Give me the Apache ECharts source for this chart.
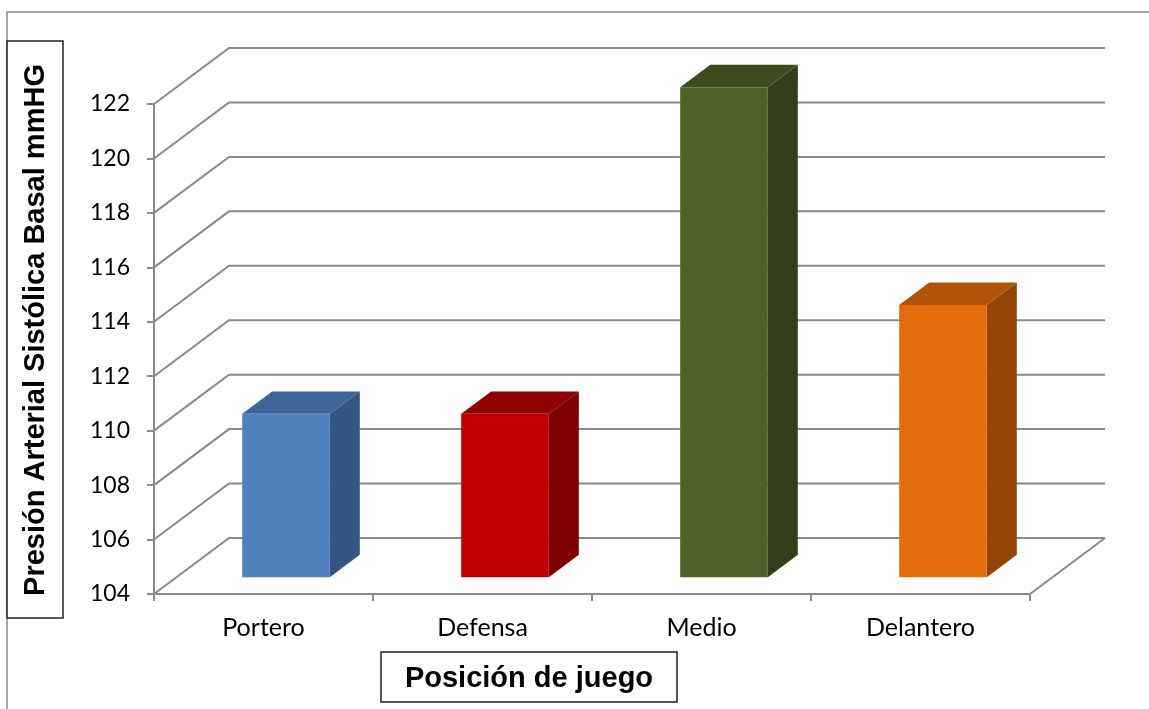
<!DOCTYPE html>
<html><head><meta charset="utf-8">
<script src="https://cdn.jsdelivr.net/npm/echarts@6/dist/echarts.min.js"></script>
<style>html,body{margin:0;padding:0;background:#fff}#c{width:1149px;height:709px}</style>
</head><body><div id="c"></div>
<script>
const categories = ['Portero', 'Defensa', 'Medio', 'Delantero'];
const values = [110, 110, 122, 114];
const frontColors = ['#4F81BD', '#C00000', '#4F6228', '#E46C0A'];
const topColors = ['#3D6595', '#900000', '#3D4B1F', '#B05408'];
const sideColors = ['#335682', '#7E0000', '#323F1A', '#934407'];
const yTicks = [104, 106, 108, 110, 112, 114, 116, 118, 120, 122];
const yMin = 104, yMax = 122, yStep = 2;
const yTitle = 'Presión Arterial Sistólica Basal mmHG';
const xTitle = 'Posición de juego';

const DX = 75, DY = -56;       // floor depth projection
const GRID_COLOR = '#8a8a8a';

const chart = echarts.init(document.getElementById('c'), null, {renderer: 'canvas'});

function renderWall(params, api) {
  const v = api.value(1);
  const cs = params.coordSys;
  const y = api.coord([0, v])[1];
  const x0 = cs.x, x1 = cs.x + cs.width;
  const children = [{
    type: 'polyline',
    shape: {points: [[x0, y], [x0 + DX, y + DY], [x1 + DX, y + DY]]},
    style: {stroke: GRID_COLOR, lineWidth: 2, fill: null}
  }];
  if (v === yMin) {
    children.push({
      type: 'line',
      shape: {x1: x1, y1: y, x2: x1 + DX, y2: y + DY},
      style: {stroke: GRID_COLOR, lineWidth: 2}
    });
  }
  return {type: 'group', children: children};
}

function renderBar(params, api) {
  const i = api.value(0), v = api.value(1);
  const base = api.coord([i, yMin]);
  const top = api.coord([i, v]);
  const cw = api.size([1, 0])[0];
  const w = cw * 0.4;
  const fx = 0.3 * DX, fy = 0.3 * DY;
  const bx = 0.4 * DX, by = 0.4 * DY;
  const left = base[0] - w / 2 + fx;
  const right = left + w;
  const yb = base[1] + fy, yt = top[1] + fy;
  return {
    type: 'group',
    children: [
      {type: 'polygon', shape: {points: [[right, yt], [right + bx, yt + by], [right + bx, yb + by], [right, yb]]},
        style: {fill: sideColors[i]}},
      {type: 'polygon', shape: {points: [[left, yt], [left + bx, yt + by], [right + bx, yt + by], [right, yt]]},
        style: {fill: topColors[i]}},
      {type: 'rect', shape: {x: left, y: yt, width: w, height: yb - yt},
        style: {fill: frontColors[i]}}
    ]
  };
}

const option = {
  backgroundColor: '#ffffff',
  animation: false,
  grid: {left: 154, top: 104, right: 119, bottom: 115, containLabel: false, outerBoundsMode: 'none'},
  xAxis: {
    type: 'category',
    data: categories,
    boundaryGap: true,
    axisLine: {show: true, lineStyle: {color: GRID_COLOR, width: 2}},
    axisTick: {show: true, length: 7, interval: 0, alignWithLabel: false, lineStyle: {color: GRID_COLOR, width: 2}},
    axisLabel: {fontFamily: 'Lato', fontSize: 25, color: '#000', margin: 21, interval: 0},
    splitLine: {show: false}
  },
  yAxis: {
    type: 'value',
    min: yMin, max: yMax, interval: yStep,
    axisLine: {show: true, lineStyle: {color: GRID_COLOR, width: 2}},
    axisTick: {show: true, length: 7, lineStyle: {color: GRID_COLOR, width: 2}},
    axisLabel: {fontFamily: 'Lato', fontSize: 23, color: '#000', margin: 24},
    splitLine: {show: false}
  },
  graphic: {elements: [
    {type: 'polyline', z: 0, shape: {points: [[7, 709], [7, 12], [1149, 12]]}, style: {stroke: '#8c8c8c', lineWidth: 1.5, fill: null}},
    {type: 'rect', z: 1, shape: {x: 7, y: 41, width: 56, height: 577}, style: {stroke: '#222', lineWidth: 1.5, fill: '#fff'}},
    {type: 'text', z: 2, x: 36, y: 330, rotation: Math.PI / 2,
      style: {text: yTitle, font: 'bold 29px "Liberation Sans", Arial, sans-serif', fill: '#000', textAlign: 'center', textVerticalAlign: 'middle'}},
    {type: 'rect', z: 1, shape: {x: 381, y: 652, width: 296, height: 50}, style: {stroke: '#222', lineWidth: 1.5, fill: '#fff'}},
    {type: 'text', z: 2, x: 529, y: 679,
      style: {text: xTitle, font: 'bold 29px "Liberation Sans", Arial, sans-serif', fill: '#000', textAlign: 'center', textVerticalAlign: 'middle'}},
    {type: 'rect', z: 3, shape: {x: 382, y: 695, width: 294, height: 6}, style: {fill: '#fff'}}
  ]},
  series: [
    {type: 'custom', clip: false, z: 1, renderItem: renderWall, data: yTicks.map(v => [0, v]), silent: true},
    {type: 'custom', clip: false, z: 3, renderItem: renderBar, data: values.map((v, i) => [i, v])}
  ]
};
chart.setOption(option);
</script></body></html>
